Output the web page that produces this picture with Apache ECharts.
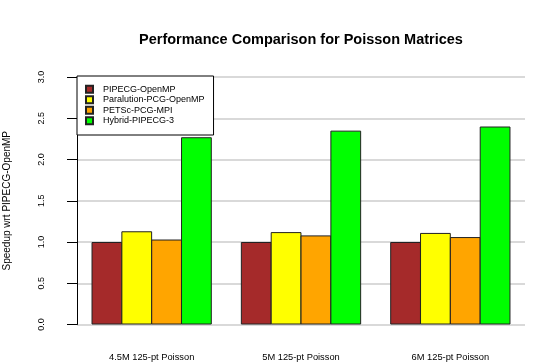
<!DOCTYPE html>
<html>
<head>
<meta charset="utf-8">
<script src="https://cdn.jsdelivr.net/npm/echarts@6/dist/echarts.min.js"></script>
<style>
  html, body { margin: 0; padding: 0; background: #fff; }
  #chart { width: 545px; height: 363px; }
</style>
</head>
<body>
<div id="chart"></div>
<script>
const categories = ['4.5M 125-pt Poisson', '5M 125-pt Poisson', '6M 125-pt Poisson']
const seriesNames = ['PIPECG-OpenMP', 'Paralution-PCG-OpenMP', 'PETSc-PCG-MPI', 'Hybrid-PIPECG-3']
const pipecgOmp = [1.0, 1.0, 1.0]
const paralution = [1.13, 1.12, 1.11]
const petsc = [1.03, 1.08, 1.06]
const hybrid = [2.27, 2.35, 2.40]
const yTicks = [0, 3, 0.5] // min, max, interval

const colors = ['#a52a2a', '#ffff00', '#ffa500', '#00ff00']
const font = '"Liberation Sans", Arial, Helvetica, sans-serif'

const chart = echarts.init(document.getElementById('chart'), null, { renderer: 'canvas' })

const values = [pipecgOmp, paralution, petsc, hybrid]

chart.setOption({
  animation: false,
  backgroundColor: '#fff',
  textStyle: { fontFamily: font },
  title: {
    text: 'Performance Comparison for Poisson Matrices',
    left: 134, top: 27,
    textStyle: { fontSize: 14.5, fontWeight: 'bold', color: '#000', fontFamily: font }
  },
  legend: {
    orient: 'vertical',
    left: 77, top: 76,
    padding: [8, 9, 9, 8],
    backgroundColor: '#fff',
    borderColor: '#000',
    borderWidth: 1,
    borderRadius: 0,
    itemWidth: 7, itemHeight: 7, itemGap: 0,
    icon: 'rect',
    data: seriesNames,
    textStyle: { fontSize: 9, color: '#000', lineHeight: 10.5, padding: [0, 0, 0, 5], fontFamily: font }
  },
  grid: { left: 77, right: 20, top: 77, bottom: 38.5, outerBoundsMode: 'none' },
  xAxis: {
    type: 'category',
    data: categories,
    axisLine: { show: false },
    axisTick: { show: false },
    axisLabel: { fontSize: 9.3, color: '#000', margin: 28, fontFamily: font }
  },
  yAxis: {
    type: 'value',
    min: yTicks[0], max: yTicks[1], interval: yTicks[2],
    name: 'Speedup wrt PIPECG-OpenMP',
    nameLocation: 'middle',
    nameRotate: 90,
    nameGap: 65,
    nameTextStyle: { fontSize: 10, color: '#000', fontFamily: font },
    axisLine: { show: true, lineStyle: { color: '#000', width: 1 } },
    axisTick: { show: true, length: 10, lineStyle: { color: '#000' } },
    axisLabel: {
      rotate: 90, fontSize: 9, color: '#000', margin: 30.5, fontFamily: font,
      formatter: v => v.toFixed(1)
    },
    splitLine: { show: true, lineStyle: { color: '#d9d9d9', width: 2 } }
  },
  series: seriesNames.map((name, i) => ({
    name,
    type: 'bar',
    data: values[i],
    barWidth: '20.6%',
    barGap: '-3%',
    barCategoryGap: '20%',
    itemStyle: { color: colors[i], borderColor: '#222', borderWidth: 1 }
  }))
})
</script>
</body>
</html>
